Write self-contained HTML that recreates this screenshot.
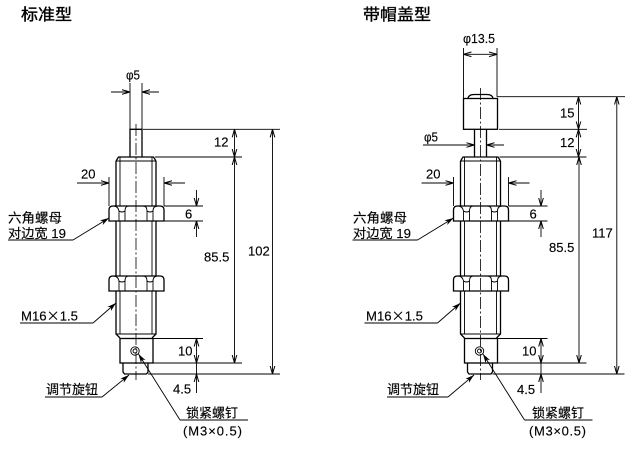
<!DOCTYPE html>
<html>
<head>
<meta charset="utf-8">
<style>
  html,body{margin:0;padding:0;background:#fff;}
  svg{display:block;}
  text{font-family:"Liberation Sans","Noto Sans CJK SC",sans-serif;fill:#000;stroke:#000;stroke-width:0.15;}
  .n{font-size:13px;}
  .c{font-size:13px;}
  .t{font-size:16px;stroke-width:0.35;}
  .k{font-family:"Noto Sans CJK SC",sans-serif;}
</style>
</head>
<body>
<svg width="634" height="452" viewBox="0 0 634 452" xmlns="http://www.w3.org/2000/svg">
<defs>
  <marker id="a" viewBox="0 0 8 6" refX="8" refY="3" markerWidth="8" markerHeight="6" orient="auto-start-reverse" markerUnits="userSpaceOnUse">
    <path d="M0,0.7 L8,3 L0,5.3" fill="none" stroke="#000" stroke-width="1"/>
  </marker>
  <marker id="b" viewBox="0 0 9 6" refX="9" refY="3" markerWidth="9" markerHeight="6" orient="auto" markerUnits="userSpaceOnUse">
    <path d="M0,0.3 L9,3 L0,5.7 L2.5,3 Z" fill="#000"/>
  </marker>
  <g id="shapes">
    <g fill="none" stroke="#000" stroke-width="1.3">
      <path d="M116,161 L118.5,157 L153.5,157 L156,161"/>
      <path d="M116,161 L116,206 M156,161 L156,206"/>
      <path d="M116,221 L116,276 M156,221 L156,276"/>
      <path d="M116,291 L116,334 L120,338 M156,291 L156,334 L152,338"/>
      <path d="M109,221 L109,210 Q109,206 113,206 L160,206 Q164,206 164,210 L164,221 Z"/>
      <path d="M109,291 L109,280 Q109,276 113,276 L160,276 Q164,276 164,280 L164,291 Z"/>
      <rect x="120" y="338.5" width="33" height="24.5"/>
      <path d="M123,363 L123,372 L124.5,374 L146.5,374 L148,372 L148,363"/>
    </g>
    <g fill="none" stroke="#000" stroke-width="0.9">
      <path d="M116,161 L156,161"/>
      <path d="M120,157 L120,206 M152,157 L152,206"/>
      <path d="M120,221 L120,276 M152,221 L152,276"/>
      <path d="M120,291 L120,334 M152,291 L152,334"/>
      <path d="M116,334 L156,334"/>
      <path d="M113,206 Q118,206 119,211 L119,221 M129,206 Q125,206 125,211 L125,221 M119,211 Q122,213 125,211"/>
      <path d="M143,206 Q147,206 147,211 L147,221 M158,206 Q153,206 153,211 L153,221 M147,211 Q150,213 153,211"/>
      <path d="M113,276 Q118,276 119,281 L119,291 M129,276 Q125,276 125,281 L125,291 M119,281 Q122,283 125,281"/>
      <path d="M143,276 Q147,276 147,281 L147,291 M158,276 Q153,276 153,281 L153,291 M147,281 Q150,283 153,281"/>
      <circle cx="135" cy="351" r="4.2"/>
      <circle cx="135" cy="351" r="2"/>
    </g>
    <g fill="none" stroke="#000" stroke-width="0.9">
      <path d="M155,157 L242,157"/>
      <path d="M109,177 L109,206 M164,177 L164,206"/>
      <path d="M77,183 L109,183" marker-end="url(#a)"/>
      <path d="M185,183 L164,183" marker-end="url(#a)"/>
      <path d="M164,206 L203,206 M164,221 L203,221"/>
      <path d="M196.5,190 L196.5,206" marker-end="url(#a)"/>
      <path d="M196.5,237 L196.5,221" marker-end="url(#a)"/>
      <path d="M153,338.5 L203,338.5"/>
      <path d="M153,363 L242,363"/>
      <path d="M148,374 L280,374"/>
      <path d="M196.5,338.5 L196.5,363" marker-start="url(#a)" marker-end="url(#a)"/>
      <path d="M196.5,363 L196.5,374"/>
      <path d="M196.5,393 L196.5,374" marker-end="url(#a)"/>
      <path d="M234.5,157 L234.5,363" marker-start="url(#a)" marker-end="url(#a)"/>
      <path d="M73,240 L109,218" marker-end="url(#b)"/>
      <path d="M93,323 L116,303" marker-end="url(#b)"/>
      <path d="M180,420 L138.5,354" marker-end="url(#b)"/>
    </g>
    <g fill="none" stroke="#555" stroke-width="1.4">
      <path d="M8,240 L73,240"/>
      <path d="M20,323 L93,323"/>
      <path d="M180,420 L248,420"/>
    </g>
  </g>
</defs>

<!-- ===== LEFT: 标准型 ===== -->
<use href="#shapes"/>
<path d="M130,157 L130,129.3 L142,129.3 L142,157" fill="none" stroke="#000" stroke-width="1.3"/>
<path d="M136,124 L136,380" fill="none" stroke="#000" stroke-width="0.8" stroke-dasharray="12,2.5,2,2.5"/>
<g fill="none" stroke="#000" stroke-width="0.9">
  <path d="M130,83 L130,129 M142,83 L142,129"/>
  <path d="M111,92 L130,92" marker-end="url(#a)"/>
  <path d="M159,92 L142,92" marker-end="url(#a)"/>
  <path d="M143,129.3 L280,129.3"/>
  <path d="M234.5,129.3 L234.5,157" marker-start="url(#a)" marker-end="url(#a)"/>
  <path d="M272.5,129.3 L272.5,374" marker-start="url(#a)" marker-end="url(#a)"/>
  <path d="M102,397 L129,375" marker-end="url(#b)"/>
</g>
<path d="M45,397 L102,397" fill="none" stroke="#555" stroke-width="1.4"/>

<text class="t" x="21" y="20" textLength="51" lengthAdjust="spacingAndGlyphs">标准型</text>
<text class="n" x="126" y="79.5" textLength="14" lengthAdjust="spacingAndGlyphs">φ5</text>
<text class="n" x="214" y="146.7">12</text>
<text class="n" x="81" y="178.5">20</text>
<text class="n" x="185" y="218.5">6</text>
<text class="c" x="8" y="222.5" textLength="54" lengthAdjust="spacingAndGlyphs">六角螺母</text>
<text class="c" x="8" y="238" textLength="58" lengthAdjust="spacingAndGlyphs">对边宽 19</text>
<text class="n" x="248" y="255.5">102</text>
<text class="n" x="204" y="261.5">85.5</text>
<text class="c" x="21" y="320.5" textLength="57" lengthAdjust="spacingAndGlyphs">M16<tspan class="k">×</tspan>1.5</text>
<text class="n" x="178" y="355.5">10</text>
<text class="n" x="173" y="393.5">4.5</text>
<text class="c" x="46" y="394" textLength="52" lengthAdjust="spacingAndGlyphs">调节旋钮</text>
<text class="c" x="186" y="417.5" textLength="52" lengthAdjust="spacingAndGlyphs">锁紧螺钉</text>
<text class="c" x="183" y="435.5" textLength="59" lengthAdjust="spacing">(M3×0.5)</text>

<!-- ===== RIGHT: 带帽盖型 ===== -->
<use href="#shapes" transform="translate(344.5,0)"/>
<g fill="none" stroke="#000" stroke-width="1.3">
  <path d="M474.5,157 L474.5,129.3 M486.5,157 L486.5,129.3"/>
  <rect x="463.5" y="98.5" width="34" height="30.8"/>
  <path d="M468,98.5 Q468.5,94.5 474,94.5 L487,94.5 Q492.5,94.5 493,98.5"/>
</g>
<path d="M480.5,88 L480.5,380" fill="none" stroke="#000" stroke-width="0.8" stroke-dasharray="12,2.5,2,2.5"/>
<g fill="none" stroke="#000" stroke-width="0.9">
  <path d="M463.5,48 L463.5,98.5 M497,48 L497,96.7"/>
  <path d="M463.5,54.3 L497,54.3" marker-start="url(#a)" marker-end="url(#a)"/>
  <path d="M423,145 L474.5,145" marker-end="url(#a)"/>
  <path d="M504,145 L486.5,145" marker-end="url(#a)"/>
  <path d="M497,96.7 L625,96.7"/>
  <path d="M499,129.3 L587,129.3"/>
  <path d="M578.5,96.7 L578.5,129.3" marker-start="url(#a)" marker-end="url(#a)"/>
  <path d="M578.5,129.3 L578.5,157" marker-start="url(#a)" marker-end="url(#a)"/>
  <path d="M616.8,96.7 L616.8,374" marker-start="url(#a)" marker-end="url(#a)"/>
  <path d="M448,397 L474,375" marker-end="url(#b)"/>
</g>
<path d="M387,397 L448,397" fill="none" stroke="#555" stroke-width="1.4"/>

<text class="t" x="363" y="20" textLength="68" lengthAdjust="spacingAndGlyphs">带帽盖型</text>
<text class="n" x="463" y="43" textLength="32" lengthAdjust="spacingAndGlyphs">φ13.5</text>
<text class="n" x="560" y="117.4">15</text>
<text class="n" x="424" y="141.5" textLength="14" lengthAdjust="spacingAndGlyphs">φ5</text>
<text class="n" x="560" y="147">12</text>
<text class="n" x="426" y="178.5">20</text>
<text class="n" x="529.5" y="218.5">6</text>
<text class="c" x="353" y="222.5" textLength="54" lengthAdjust="spacingAndGlyphs">六角螺母</text>
<text class="c" x="353" y="238" textLength="58" lengthAdjust="spacingAndGlyphs">对边宽 19</text>
<text class="n" x="592" y="237.5">117</text>
<text class="n" x="549" y="252">85.5</text>
<text class="c" x="366" y="320.5" textLength="57" lengthAdjust="spacingAndGlyphs">M16<tspan class="k">×</tspan>1.5</text>
<text class="n" x="522" y="355.5">10</text>
<text class="n" x="517" y="394">4.5</text>
<text class="c" x="387" y="394" textLength="52" lengthAdjust="spacingAndGlyphs">调节旋钮</text>
<text class="c" x="532" y="417.5" textLength="52" lengthAdjust="spacingAndGlyphs">锁紧螺钉</text>
<text class="c" x="529" y="435.5" textLength="57" lengthAdjust="spacing">(M3×0.5)</text>
</svg>
</body>
</html>
